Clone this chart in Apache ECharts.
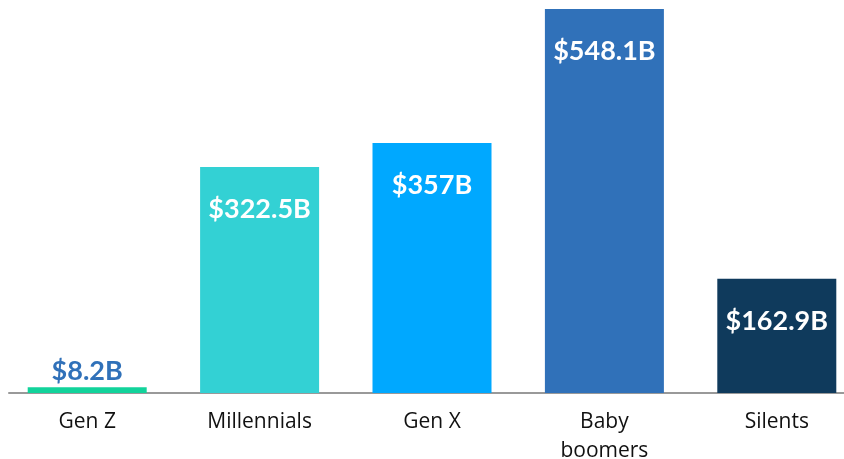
<!DOCTYPE html>
<html>
<head>
<meta charset="utf-8">
<script src="https://cdn.jsdelivr.net/npm/echarts@6/dist/echarts.min.js"></script>
<style>
  html, body { margin: 0; padding: 0; background: #fff; }
  #chart { width: 844px; height: 459px; }
</style>
</head>
<body>
<div id="chart"></div>
<script>
const categories = ['Gen Z', 'Millennials', 'Gen X', 'Baby\nboomers', 'Silents']
const values = [8.2, 322.5, 357, 548.1, 162.9]
const valueLabels = ['$8.2B', '$322.5B', '$357B', '$548.1B', '$162.9B']
const colors = ['#12d39b', '#33d1d4', '#00a8ff', '#3071b9', '#0f3a5c']

const chart = echarts.init(document.getElementById('chart'))

const barData = values.map((v, i) => {
  const small = v < 50
  return {
    value: v,
    itemStyle: { color: colors[i] },
    label: small
      ? { position: 'top', distance: 2, color: '#3071b9' }
      : { position: 'insideTop', distance: 29, color: '#fff' }
  }
})

chart.setOption({
  animation: false,
  grid: [
    { left: 1, right: -19, top: 9, bottom: 66, outerBoundsMode: 'none', containLabel: false },
    { left: 9, right: 0, top: 9, bottom: 66, outerBoundsMode: 'none', containLabel: false }
  ],
  xAxis: [
    {
      type: 'category',
      data: categories,
      gridIndex: 0,
      axisLine: { show: false },
      axisTick: { show: false },
      axisLabel: {
        color: '#111',
        fontFamily: 'Open Sans',
        fontSize: 21,
        margin: 15,
        lineHeight: 29
      }
    },
    {
      type: 'value',
      gridIndex: 1,
      min: 0,
      max: 1,
      axisLine: { show: true, onZero: false, lineStyle: { color: '#999', width: 2 } },
      axisTick: { show: false },
      axisLabel: { show: false },
      splitLine: { show: false }
    }
  ],
  yAxis: [
    { type: 'value', gridIndex: 0, min: 0, max: 548.1, show: false },
    { type: 'value', gridIndex: 1, min: 0, max: 1, show: false }
  ],
  series: [{
    type: 'bar',
    xAxisIndex: 0,
    yAxisIndex: 0,
    z: 3,
    barWidth: 119,
    data: barData,
    label: {
      show: true,
      fontFamily: 'Lato',
      fontWeight: 'bold',
      fontSize: 27,
      formatter: (p) => valueLabels[p.dataIndex]
    }
  }]
})
</script>
</body>
</html>
